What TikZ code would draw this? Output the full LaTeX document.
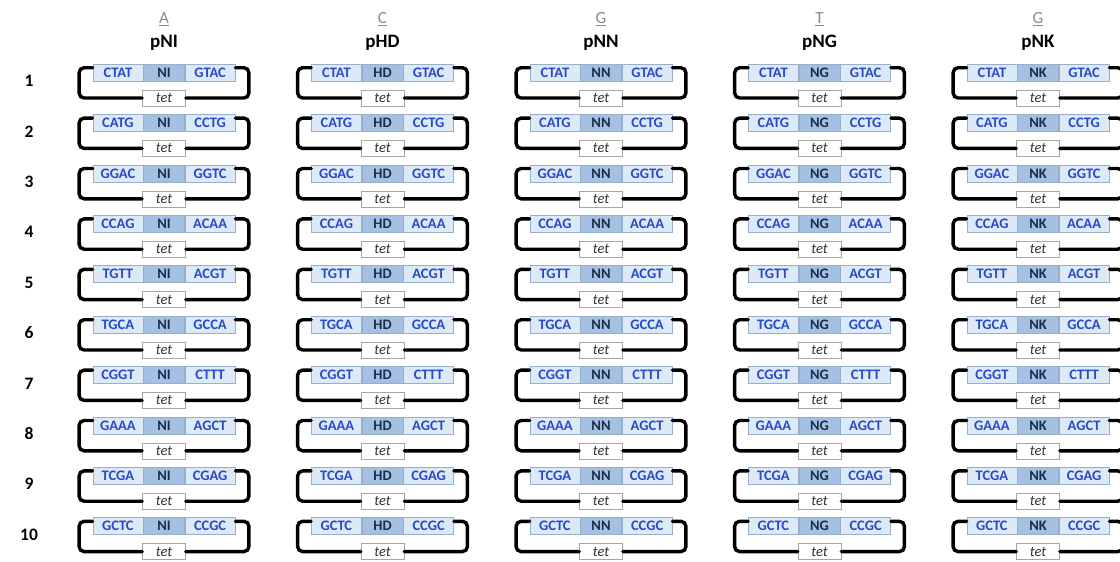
\documentclass[tikz,border=0pt]{standalone}
\usepackage{fontspec}
\setmainfont{Carlito}
\definecolor{boxlight}{HTML}{DCE9F6}
\definecolor{boxdark}{HTML}{A4C0E2}
\definecolor{boxedge}{HTML}{98AECB}
\definecolor{seqblue}{HTML}{2948CC}
\definecolor{rvdtext}{HTML}{1D2C4A}
\definecolor{basegray}{HTML}{8A8A8A}
\tikzset{
  seqbox/.style={draw=boxedge, line width=0.6pt, fill=boxlight, inner sep=0pt,
    minimum width=50pt, minimum height=17pt, text=seqblue,
    font=\fontsize{14.5}{15}\selectfont\bfseries},
  rvdbox/.style={draw=boxedge, line width=0.6pt, fill=boxdark, inner sep=0pt,
    minimum width=41pt, minimum height=17pt, text=rvdtext,
    font=\fontsize{14.5}{15}\selectfont\bfseries},
  tetbox/.style={draw=black!35, line width=0.6pt, fill=white, inner sep=0pt,
    minimum width=43pt, minimum height=16pt, text=black!80,
    font=\fontsize{14.5}{15}\selectfont\itshape},
  backbone/.style={line width=3.4pt, rounded corners=5pt, line cap=round},
  baselabel/.style={text=basegray, font=\fontsize{17}{18}\selectfont},
  plasmidlabel/.style={font=\fontsize{19}{20}\selectfont\bfseries},
  rowlabel/.style={font=\fontsize{17.5}{18}\selectfont\bfseries}
}
\begin{document}
\begin{tikzpicture}[x=1pt, y=-1pt]
\useasboundingbox (0,0) rectangle (1120,562);
% column headers: target base and plasmid name
\foreach \c/\cx/\base/\rvd in {1/164/A/NI, 2/382.5/C/HD, 3/601/G/NN, 4/819.5/T/NG, 5/1038/G/NK} {
  \node[baselabel] (base-\c) at (\cx,19) {\underline{\base}};
  \node[plasmidlabel] (name-\c) at (\cx,43) {p\rvd};
}
% rows of plasmids: flanking half-sites around the RVD module, closed by the tet backbone
\foreach \r/\lft/\rgt in {1/CTAT/GTAC, 2/CATG/CCTG, 3/GGAC/GGTC, 4/CCAG/ACAA, 5/TGTT/ACGT,
                          6/TGCA/GCCA, 7/CGGT/CTTT, 8/GAAA/AGCT, 9/TCGA/CGAG, 10/GCTC/CCGC} {
  \pgfmathsetmacro{\cy}{72.5+50.4*(\r-1)}
  \node[rowlabel] (row-\r) at (29,\cy+8.5) {\r};
  \foreach \c/\cx/\rvd in {1/164/NI, 2/382.5/HD, 3/601/NN, 4/819.5/NG, 5/1038/NK} {
    \node[rvdbox] (M-\c-\r) at (\cx,\cy) {\rvd};
    \node[seqbox, anchor=east] (L-\c-\r) at (M-\c-\r.west) {\lft};
    \node[seqbox, anchor=west] (R-\c-\r) at (M-\c-\r.east) {\rgt};
    \node[tetbox] (T-\c-\r) at (\cx,\cy+25.5) {tet};
    \draw[backbone] ([yshift=-4pt]L-\c-\r.north west) -- ++(-13.5,0) |- (T-\c-\r.west);
    \draw[backbone] ([yshift=-4pt]R-\c-\r.north east) -- ++(13.5,0) |- (T-\c-\r.east);
  }
}
\end{tikzpicture}
\end{document}
